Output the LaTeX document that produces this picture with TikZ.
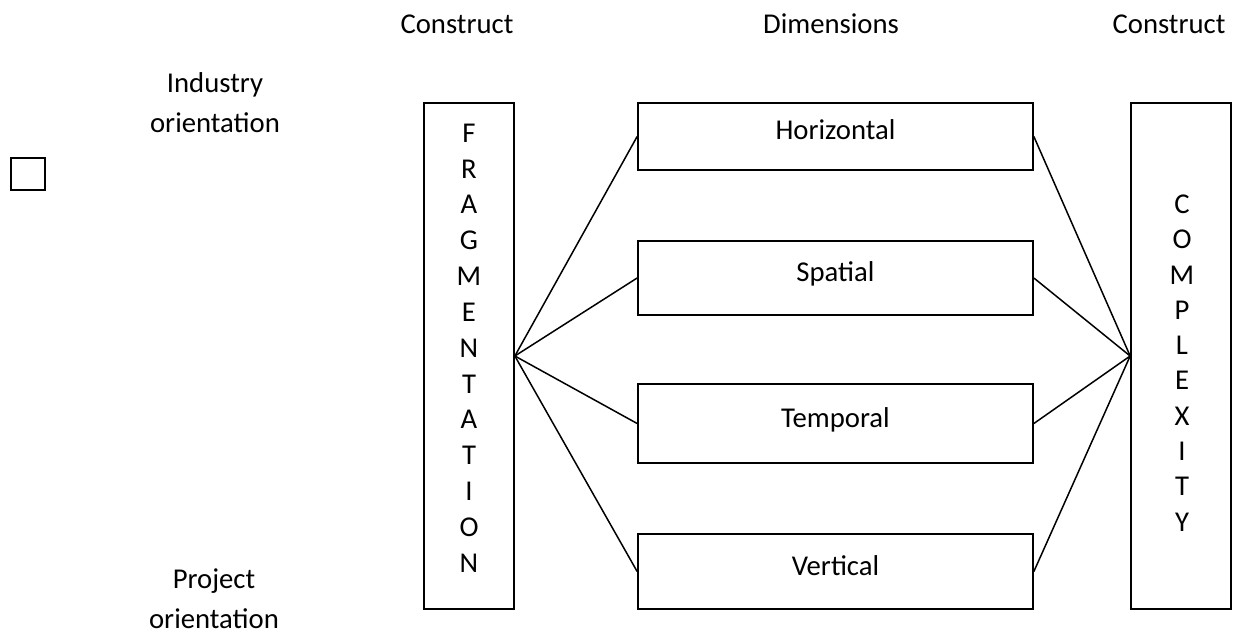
\documentclass[tikz,border=0pt]{standalone}
\usepackage{fontspec}
\setmainfont{Carlito}
\begin{document}
\begin{tikzpicture}[x=1pt,y=-1pt,
  box/.style={draw,line width=1.7pt,inner sep=0pt},
  lbl/.style={font=\fontsize{28.7}{40}\selectfont,align=center,inner sep=0pt},
  dimtxt/.style={font=\fontsize{28.7}{40}\selectfont,text height=20pt,text depth=13pt},
  col/.style={align=center,inner sep=0pt},
  link/.style={line width=1.5pt}]
\useasboundingbox (0,0) rectangle (1234,639);
% top labels
\node[lbl,anchor=base] (c1) at (457,34) {Construct};
\node[lbl,anchor=base] (dm) at (831,34) {Dimensions};
\node[lbl,anchor=base] (c2) at (1169,34) {Construct};
% left labels
\node[lbl] (ind) at (215,103) {Industry\\orientation};
\node[lbl] (prj) at (214,599) {Project\\orientation};
\node[box,minimum width=34pt,minimum height=32pt] (sq) at (28,174) {};
% construct boxes
\node[box,minimum width=90pt,minimum height=506pt] (frag) at (469,356) {};
\node[col,font=\fontsize{28.7}{35.83}\selectfont] (fragt) at (469,348) {F\\R\\A\\G\\M\\E\\N\\T\\A\\T\\I\\O\\N};
\node[box,minimum width=100pt,minimum height=506pt] (cplx) at (1181,356) {};
\node[col,font=\fontsize{28.7}{35.3}\selectfont] (cplxt) at (1182,363) {C\\O\\M\\P\\L\\E\\X\\I\\T\\Y};
% dimension boxes
\node[box,dimtxt,minimum width=395pt,minimum height=67pt] (hor) at (835.5,136.5) {Horizontal};
\node[box,dimtxt,minimum width=395pt,minimum height=74pt] (spa) at (835.5,278) {Spatial};
\node[box,dimtxt,minimum width=395pt,minimum height=79pt] (tem) at (835.5,423.5) {Temporal};
\node[box,dimtxt,minimum width=395pt,minimum height=75pt] (ver) at (835.5,571.5) {Vertical};
% connectors
\foreach \d in {hor,spa,tem,ver}{
  \draw[link] (frag.east) -- (\d.west);
  \draw[link] (\d.east) -- (cplx.west);
}
\end{tikzpicture}
\end{document}
